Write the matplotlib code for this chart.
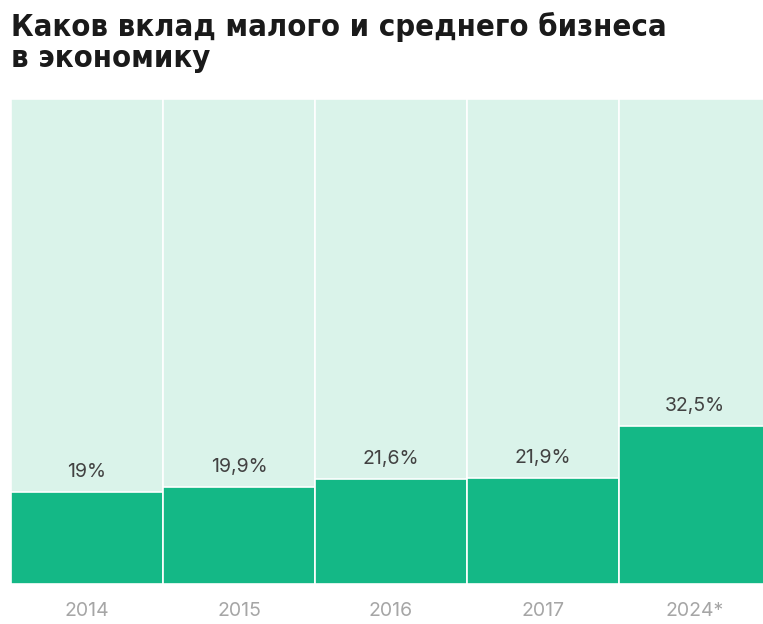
import matplotlib
matplotlib.use("Agg")
import matplotlib.pyplot as plt

years = ["2014", "2015", "2016", "2017", "2024*"]
shares = [19.0, 19.9, 21.6, 21.9, 32.5]
value_labels = ["19%", "19,9%", "21,6%", "21,9%", "32,5%"]

GREEN = "#14b886"
MINT = "#daf3ea"

fig = plt.figure(figsize=(7.63, 6.24), dpi=100)
fig.patch.set_facecolor("white")

# axes spans 5 equal columns; the last one runs past the right edge
ax = fig.add_axes([11 / 763, (624 - 584) / 624, 760 / 763, (584 - 99) / 624])
x = range(len(years))
ax.bar(x, [100] * len(years), width=1.0, color=MINT, edgecolor="white", linewidth=1.2)
ax.bar(x, shares, width=1.0, color=GREEN, edgecolor="white", linewidth=1.2)
ax.set_xlim(-0.5, 4.5)
ax.set_ylim(0, 100)

for xi, v, lab in zip(x, shares, value_labels):
    ax.annotate(lab, (xi, v), xytext=(0, 8), textcoords="offset points",
                ha="center", va="bottom", fontsize=14, color="#424242",
                family="Inter")

ax.set_xticks(list(x))
ax.set_xticklabels(years, fontsize=14, color="#a6a6a6", family="Inter")
ax.tick_params(axis="x", length=0, pad=13)
ax.set_yticks([])
for s in ax.spines.values():
    s.set_visible(False)

fig.text(11 / 763, 1 - 12 / 624, "Каков вклад малого и среднего бизнеса\nв экономику",
         ha="left", va="top", fontsize=22.2, fontweight="bold", color="#1a1a1a",
         family="DejaVu Sans", fontstretch="condensed", linespacing=1.1)

fig.savefig("out.png", dpi=100, facecolor="white")
